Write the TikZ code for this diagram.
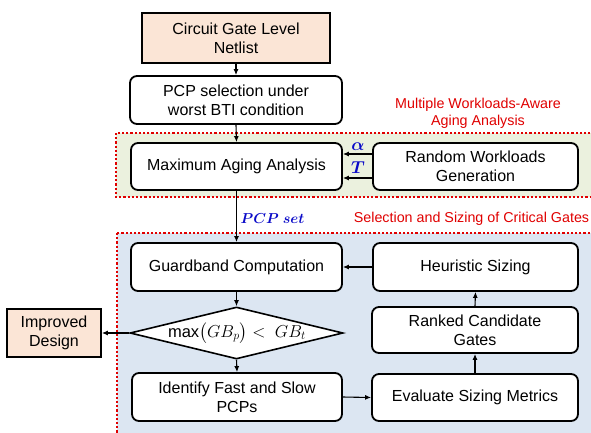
\documentclass[tikz,border=0pt]{standalone}
\usepackage{fontspec}
\usepackage{amsmath}
\usepackage{bm}
\setmainfont{Liberation Sans}
\usetikzlibrary{arrows.meta,shapes.geometric}
\definecolor{peach}{HTML}{FBE5D6}
\definecolor{olivebg}{HTML}{EBF1DE}
\definecolor{bluebg}{HTML}{DCE6F2}
\definecolor{groupred}{HTML}{E00000}
\definecolor{mathblue}{RGB}{10,10,200}
\tikzset{
  stage/.style={draw=black, line width=1.8pt, rounded corners=7pt, fill=white,
    align=center, inner sep=2pt, font=\fontsize{16}{19}\selectfont},
  endpoint/.style={draw=black, line width=1.8pt, fill=peach,
    align=center, inner sep=2pt, font=\fontsize{16}{19}\selectfont},
  decision/.style={draw=black, line width=1.6pt, fill=white, shape=diamond,
    inner sep=0pt, minimum width=213pt, minimum height=52pt},
  flow/.style={draw=black, line width=1.1pt, -{Latex[length=6pt,width=5pt]}},
  group/.style={draw=groupred, line width=2.2pt, dash pattern=on 2.2pt off 2pt},
  grouptitle/.style={text=groupred, align=center, font=\fontsize{14.3}{17}\selectfont},
  varlabel/.style={text=mathblue, font=\fontsize{16}{19}\selectfont, inner sep=1pt}
}
\begin{document}
\begin{tikzpicture}[x=1pt,y=-1pt]
  \useasboundingbox (0,0) rectangle (591,432);
  \clip (0,0) rectangle (591,432);

  % group backgrounds
  \draw[group, fill=olivebg] (116,133) rectangle (600,197);
  \draw[group, fill=bluebg] (117,233) rectangle (600,440);

  % group titles
  \node[grouptitle] (gt1) at (478,113) {Multiple Workloads-Aware\\Aging Analysis};
  \node[grouptitle] (gt2) at (471.5,219) {Selection and Sizing of Critical Gates};

  % stages
  \node[endpoint, minimum width=188pt, minimum height=50pt] (net) at (236,38) {Circuit Gate Level\\Netlist};
  \node[stage, minimum width=212pt, minimum height=48pt] (pcp) at (236,100) {PCP selection under\\worst BTI condition};
  \node[stage, minimum width=211pt, minimum height=47pt] (maa) at (236.5,166.5) {Maximum Aging Analysis};
  \node[stage, minimum width=205pt, minimum height=47pt] (rwg) at (475.5,166.5) {Random Workloads\\Generation};
  \node[stage, minimum width=211pt, minimum height=48pt] (gbc) at (236.5,267) {Guardband Computation};
  \node[stage, minimum width=205pt, minimum height=48pt] (heu) at (475.5,267) {Heuristic Sizing};
  \node[stage, minimum width=206pt, minimum height=46pt] (rcg) at (475,330) {Ranked Candidate\\Gates};
  \node[stage, minimum width=210pt, minimum height=48pt] (ide) at (237,397) {Identify Fast and Slow\\PCPs};
  \node[stage, minimum width=206pt, minimum height=47pt] (evs) at (475,397.5) {Evaluate Sizing Metrics};
  \node[endpoint, minimum width=94pt, minimum height=48pt] (imp) at (54,333) {Improved\\Design};

  % decision
  \node[decision] (dec) at (236.5,333) {};
  \node[font=\fontsize{16.5}{19}\selectfont] (dectxt) at (237,333) {max$\bigl(GB_p\bigr) <\ GB_t$};

  % connectors
  \draw[flow] (net.south) -- (pcp.north);
  \draw[flow] (pcp.south) -- (maa.north);
  \draw[flow] ([yshift=12.5pt]rwg.west) -- ([yshift=12.5pt]maa.east);
  \draw[flow] ([yshift=-11.5pt]rwg.west) -- ([yshift=-11.5pt]maa.east);
  \draw[flow] (maa.south) -- (gbc.north);
  \draw[flow] (gbc.south) -- (dec.north);
  \draw[flow] (dec.south) -- (ide.north);
  \draw[flow] (dec.west) -- (imp.east);
  \draw[flow] (ide.east) -- (evs.west);
  \draw[flow] (evs.north) -- (rcg.south);
  \draw[flow] (rcg.north) -- (heu.south);
  \draw[flow] (heu.west) -- (gbc.east);

  % variable labels
  \node[varlabel] (alpha) at (358,146.5) {$\bm{\alpha}$};
  \node[varlabel] (tvar) at (358,168) {$\bm{T}$};
  \node[varlabel, font=\fontsize{14.5}{17}\selectfont] (pcpset) at (272.5,218.5) {$\bm{PCP\ set}$};
\end{tikzpicture}
\end{document}
